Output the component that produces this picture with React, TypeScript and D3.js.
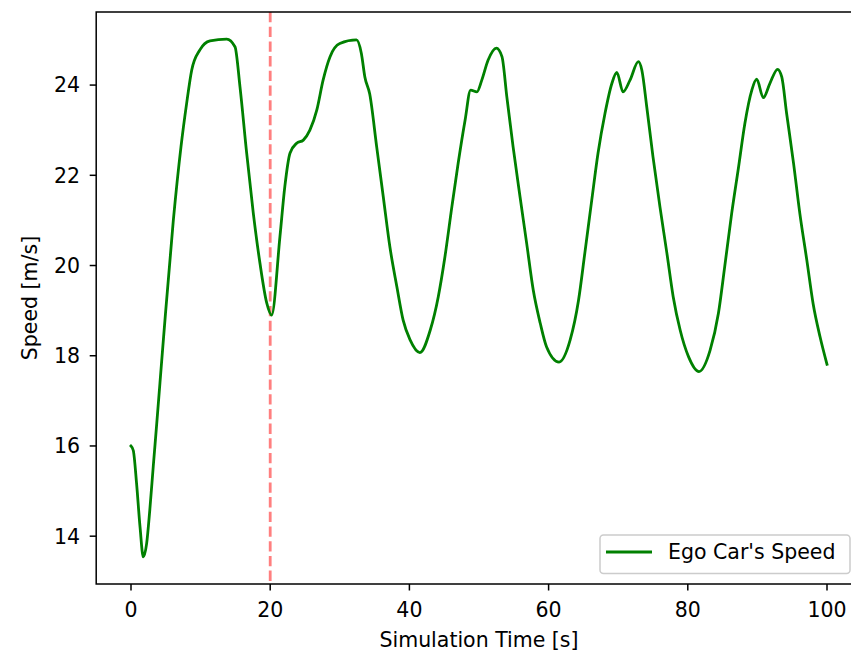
import React from 'react';
import * as d3 from 'd3';

// simulation time [s]
const timeS = [
  0, 0.33, 0.8, 1.3, 1.77, 2.25, 2.7, 3.2, 3.7, 4.65, 6.08, 7.18, 8.0, 8.72, 9.9, 11.35, 13.75,
  14.94, 15.66, 16.62, 17.57, 18.53, 19.5, 20.2, 21.4, 22.1, 22.84, 23.8, 24.76, 25.7, 26.7, 27.6,
  28.6, 30.0, 32.4, 33.1, 33.6, 34.3, 35.3, 36.25, 37.2, 38.2, 39.1, 40.1, 41.5, 43.0, 44.15, 45.1,
  46.1, 47.0, 48.0, 48.8, 49.7, 50.4, 51.3, 52.5, 53.3, 54.0, 54.9, 55.9, 56.85, 57.8, 58.8, 59.7,
  61.5, 63.1, 64.3, 65.2, 66.2, 67.1, 68.1, 69.1, 69.8, 70.7, 71.7, 72.9, 73.4, 74.1, 75.0, 76.0,
  77.0, 77.9, 78.9, 80.1, 81.6, 83.2, 84.4, 85.3, 86.3, 87.3, 88.2, 89.2, 89.9, 90.85, 91.8, 92.9,
  93.5, 94.2, 95.2, 96.1, 97.1, 98.0, 99.0, 100
];

// ego car speed [m/s]
const speed = [
  16.0, 15.9, 15.17, 14.2, 13.54, 13.84, 14.58, 15.55, 16.5, 18.35, 21.0, 22.63, 23.6, 24.33,
  24.78, 24.98, 25.02, 24.85, 23.96, 22.49, 21.16, 20.05, 19.17, 18.9, 20.64, 21.75, 22.49, 22.71,
  22.78, 23.0, 23.45, 24.11, 24.63, 24.92, 25.0, 24.7, 24.18, 23.8, 22.63, 21.52, 20.41, 19.53,
  18.79, 18.35, 18.07, 18.57, 19.31, 20.19, 21.3, 22.26, 23.22, 23.89, 23.85, 24.11, 24.55, 24.82,
  24.63, 23.74, 22.63, 21.52, 20.49, 19.45, 18.72, 18.2, 17.86, 18.35, 19.23, 20.27, 21.45, 22.49,
  23.37, 24.04, 24.28, 23.85, 24.11, 24.52, 24.33, 23.52, 22.41, 21.3, 20.27, 19.31, 18.57, 17.98,
  17.65, 18.12, 18.94, 19.97, 21.15, 22.19, 23.15, 23.89, 24.13, 23.72, 24.04, 24.35, 24.18, 23.37,
  22.26, 21.15, 20.12, 19.16, 18.42, 17.81
];

const xTicks = [0, 20, 40, 60, 80, 100];
const yTicks = [14, 16, 18, 20, 22, 24];
const markerTime = 20;
const seriesLabel = "Ego Car's Speed";

const W = 851;
const H = 651;
const font = 'DejaVu Sans, sans-serif';
const fs = 20.5;

export default function App() {
  const x = d3.scaleLinear().domain([-5, 105]).range([96.2, 861.8]);
  const y = d3.scaleLinear().domain([12.94, 25.62]).range([584, 12]);

  const pts = timeS.map((t, i) => [t, speed[i]] as [number, number]);
  const line = d3.line<[number, number]>()
    .x(d => x(d[0]))
    .y(d => y(d[1]))
    .curve(d3.curveMonotoneX);

  const left = x(-5);
  const right = x(105);
  const top = y(25.62);
  const bottom = y(12.94);

  return (
    <svg width={W} height={H} style={{ position: 'absolute', left: 0, top: 0, background: 'white' }}
      fontFamily={font}>
      <rect x={0} y={0} width={W} height={H} fill="white" />
      <defs>
        <clipPath id="plot">
          <rect x={left} y={top} width={right - left} height={bottom - top} />
        </clipPath>
      </defs>

      {/* dashed marker */}
      <line x1={x(markerTime)} x2={x(markerTime)} y1={top} y2={bottom}
        stroke="#ff0000" strokeOpacity={0.5} strokeWidth={2.8} strokeDasharray="10.3,4.4" />

      <path d={line(pts) || ''} fill="none" stroke="#008000" strokeWidth={2.8}
        strokeLinejoin="round" strokeLinecap="square" clipPath="url(#plot)" />

      {/* spines */}
      <rect x={left} y={top} width={right - left} height={bottom - top}
        fill="none" stroke="#000" strokeWidth={1.5} />

      {/* x ticks */}
      {xTicks.map(t => (
        <g key={'x' + t}>
          <line x1={x(t)} x2={x(t)} y1={bottom} y2={bottom + 6.5} stroke="#000" strokeWidth={1.5} />
          <text x={x(t)} y={617} textAnchor="middle" fontSize={fs} fill="#000">{t}</text>
        </g>
      ))}
      {/* y ticks */}
      {yTicks.map(t => (
        <g key={'y' + t}>
          <line x1={left - 6.5} x2={left} y1={y(t)} y2={y(t)} stroke="#000" strokeWidth={1.5} />
          <text x={80} y={y(t)} dy="0.36em" textAnchor="end" fontSize={fs} fill="#000">{t}</text>
        </g>
      ))}

      <text x={x(50)} y={647} textAnchor="middle" fontSize={fs} fill="#000">Simulation Time [s]</text>
      <text transform={`translate(37,${(top + bottom) / 2}) rotate(-90)`} textAnchor="middle"
        fontSize={fs} fill="#000">Speed [m/s]</text>

      {/* legend */}
      <g>
        <rect x={600} y={535} width={250} height={38.5} rx={3.5} fill="white" fillOpacity={0.8}
          stroke="#cccccc" strokeWidth={1.5} />
        <line x1={606} x2={652} y1={552} y2={552} stroke="#008000" strokeWidth={2.8} />
        <text x={668} y={552} dy="0.36em" fontSize={fs} fill="#000">{seriesLabel}</text>
      </g>
    </svg>
  );
}
